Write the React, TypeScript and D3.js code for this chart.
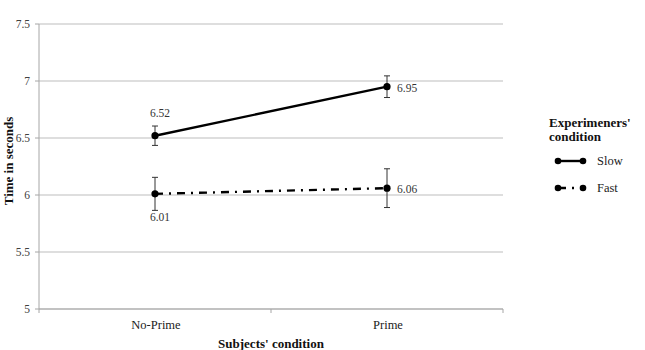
import * as d3 from "d3";

const CONDITIONS = ["No-Prime", "Prime"];
const SERIES_NAMES = ["Slow", "Fast"];
const SLOW_MEANS = [6.52, 6.95];
const SLOW_ERRORS = [0.085, 0.095];
const FAST_MEANS = [6.01, 6.06];
const FAST_ERRORS = [0.145, 0.17];
const Y_TICKS = [5, 5.5, 6, 6.5, 7, 7.5];

const WIDTH = 645;
const HEIGHT = 350;
const MARGIN = { top: 24, right: 142, bottom: 41, left: 39 };
const FONT = '"Liberation Serif", "DejaVu Serif", serif';

type Series = {
  name: string;
  means: number[];
  errors: number[];
  dash: string | undefined;
};

const series: Series[] = [
  { name: SERIES_NAMES[0], means: SLOW_MEANS, errors: SLOW_ERRORS, dash: undefined },
  { name: SERIES_NAMES[1], means: FAST_MEANS, errors: FAST_ERRORS, dash: "8 6 2 6" },
];

export default function App() {
  const x = d3
    .scaleBand()
    .domain(CONDITIONS)
    .range([MARGIN.left, WIDTH - MARGIN.right])
    .padding(0);
  const y = d3
    .scaleLinear()
    .domain([5, 7.5])
    .range([HEIGHT - MARGIN.bottom, MARGIN.top]);

  const cx = (c: string) => (x(c) ?? 0) + x.bandwidth() / 2;
  const line = d3
    .line<number>()
    .x((_, i) => cx(CONDITIONS[i]))
    .y((d) => y(d));

  const bottom = y(5);
  const right = WIDTH - MARGIN.right;
  // band edges for the x-axis ticks
  const xEdges = [...CONDITIONS.map((c) => x(c) ?? 0), right];

  const legendX = 558;
  const legendY = [161, 188];

  return (
    <svg
      width={WIDTH}
      height={HEIGHT}
      style={{ position: "absolute", left: 0, top: 0, background: "#fff", fontFamily: FONT }}
    >
      {/* gridlines */}
      {Y_TICKS.map((t) => (
        <g key={t}>
          <line x1={MARGIN.left} x2={right} y1={y(t)} y2={y(t)} stroke="#bdbdbd" strokeWidth={1.2} />
          <line x1={MARGIN.left - 4} x2={MARGIN.left} y1={y(t)} y2={y(t)} stroke="#a6a6a6" />
          <text x={30} y={y(t)} dy="0.35em" textAnchor="end" fontSize={11.5} fill="#404040">
            {t}
          </text>
        </g>
      ))}

      {/* axes */}
      <line x1={MARGIN.left} x2={MARGIN.left} y1={MARGIN.top} y2={bottom} stroke="#a6a6a6" />
      <line x1={MARGIN.left} x2={right} y1={bottom} y2={bottom} stroke="#a6a6a6" strokeWidth={1.2} />
      {xEdges.map((e, i) => (
        <line key={i} x1={e} x2={e} y1={bottom} y2={bottom + 4} stroke="#a6a6a6" />
      ))}
      {CONDITIONS.map((c) => (
        <text key={c} x={cx(c) + 1} y={325} dy="0.35em" textAnchor="middle" fontSize={12.5} fill="#222">
          {c}
        </text>
      ))}

      <text x={271} y={343} dy="0.35em" textAnchor="middle" fontSize={13} fontWeight="bold" fill="#111">
        Subjects' condition
      </text>
      <text
        transform={`translate(8,161) rotate(-90)`}
        dy="0.35em"
        textAnchor="middle"
        fontSize={13}
        fontWeight="bold"
        fill="#111"
      >
        Time in seconds
      </text>

      {/* series */}
      {series.map((s, si) => (
        <g key={s.name}>
          {s.means.map((m, i) => {
            const px = cx(CONDITIONS[i]);
            const e = s.errors[i];
            return (
              <g key={i} stroke="#333" strokeWidth={1}>
                <line x1={px} x2={px} y1={y(m + e)} y2={y(m - e)} />
                <line x1={px - 3} x2={px + 3} y1={y(m + e)} y2={y(m + e)} />
                <line x1={px - 3} x2={px + 3} y1={y(m - e)} y2={y(m - e)} />
              </g>
            );
          })}
          <path
            d={line(s.means) ?? ""}
            fill="none"
            stroke="#000"
            strokeWidth={2.4}
            strokeDasharray={s.dash}
          />
          {s.means.map((m, i) => (
            <circle key={i} cx={cx(CONDITIONS[i])} cy={y(m)} r={3.6} fill="#000" />
          ))}
          {s.means.map((m, i) => {
            const px = cx(CONDITIONS[i]);
            if (i === 0) {
              const above = si === 0;
              return (
                <text
                  key={`l${i}`}
                  x={px + 5}
                  y={above ? y(m) - 23 : y(m) + 23}
                  dy="0.35em"
                  textAnchor="middle"
                  fontSize={11.5}
                  fill="#333"
                >
                  {m.toFixed(2)}
                </text>
              );
            }
            return (
              <text key={`l${i}`} x={px + 10} y={y(m) + 1} dy="0.35em" fontSize={11.5} fill="#333">
                {m.toFixed(2)}
              </text>
            );
          })}
        </g>
      ))}

      {/* legend */}
      <text x={549} y={122} dy="0.35em" fontSize={13} fontWeight="bold" fill="#111">
        Experimeners'
      </text>
      <text x={549} y={136} dy="0.35em" fontSize={13} fontWeight="bold" fill="#111">
        condition
      </text>
      {series.map((s, i) => (
        <g key={s.name}>
          <line
            x1={legendX}
            x2={legendX + 25}
            y1={legendY[i]}
            y2={legendY[i]}
            stroke="#000"
            strokeWidth={2.4}
            strokeDasharray={s.dash}
          />
          <circle cx={legendX} cy={legendY[i]} r={3.3} fill="#000" />
          <circle cx={legendX + 25} cy={legendY[i]} r={3.3} fill="#000" />
          <text x={597} y={legendY[i]} dy="0.35em" fontSize={12.5} fill="#222">
            {s.name}
          </text>
        </g>
      ))}
    </svg>
  );
}
